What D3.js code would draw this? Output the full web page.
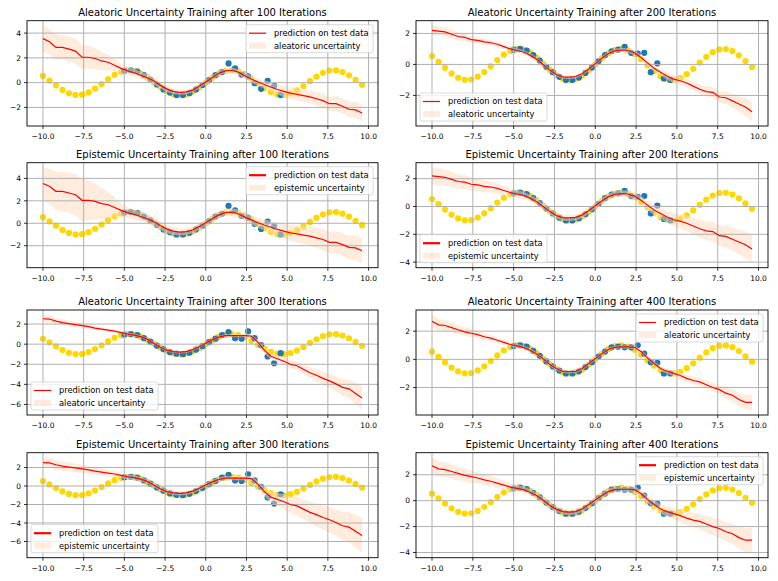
<!DOCTYPE html>
<html><head><meta charset="utf-8">
<script src="https://cdn.jsdelivr.net/npm/d3@7"></script>
<style>body{margin:0;background:#fff} svg{display:block}</style>
</head><body><svg id="c" width="778" height="581"></svg>
<script>
// ---------------- data ----------------
const xTest = [-10,-9.6,-9.2,-8.8,-8.4,-8,-7.6,-7.2,-6.8,-6.4,-6,-5.6,-5.2,-4.8,-4.4,-4,-3.6,-3.2,-2.8,-2.4,-2,-1.6,-1.2,-0.8,-0.4,0,0.4,0.8,1.2,1.6,2,2.4,2.8,3.2,3.6,4,4.4,4.8,5.2,5.6,6,6.4,6.8,7.2,7.6,8,8.4,8.8,9.2,9.6];
const testY = [0.54,0.17,-0.22,-0.59,-0.86,-0.99,-0.97,-0.79,-0.49,-0.12,0.28,0.63,0.88,1.0,0.95,0.76,0.44,0.06,-0.34,-0.68,-0.91,-1.0,-0.93,-0.72,-0.39,0,0.39,0.72,0.93,1.0,0.91,0.68,0.34,-0.06,-0.44,-0.76,-0.95,-1.0,-0.88,-0.63,-0.28,0.12,0.49,0.79,0.97,0.99,0.86,0.59,0.22,-0.17];
const xTrain = [-5,-4.6,-4.2,-3.8,-3.4,-3,-2.6,-2.2,-1.8,-1.4,-1,-0.6,-0.2,0.2,0.6,1,1.4,1.8,2.2,2.6,3,3.4,3.8,4.2,4.6];
const train100 = [0.95,1.0,0.9,0.6,0.25,-0.15,-0.55,-0.8,-1.0,-1.0,-0.85,-0.55,-0.2,0.2,0.6,0.85,1.55,1.15,0.65,0.5,-0.05,-0.5,0.15,-0.25,-1.0];
const train200 = [0.95,1.0,0.9,0.6,0.25,-0.15,-0.5,-0.8,-1.0,-1.0,-0.85,-0.55,-0.2,0.2,0.6,0.85,0.95,1.13,0.75,0.7,0.75,-0.5,0.07,-0.9,-1.0];
const train300 = [0.95,1.0,0.9,0.6,0.25,-0.15,-0.5,-0.8,-0.95,-1.0,-0.85,-0.55,-0.2,0.2,0.55,0.9,1.2,0.6,0.55,1.27,0.6,-0.1,-1.23,-1.9,-0.9];
const train400 = [0.95,1.0,0.9,0.6,0.25,-0.15,-0.5,-0.8,-1.0,-1.0,-0.85,-0.55,-0.2,0.2,0.55,0.85,0.9,0.85,0.85,1.0,0.4,-0.2,-0.25,-1.0,-1.0];

const mean100 = [3.55,3.3,2.85,2.85,2.7,2.55,2.05,2.05,1.95,1.75,1.65,1.4,1.15,0.95,0.8,0.6,0.4,0.15,-0.2,-0.5,-0.7,-0.78,-0.75,-0.6,-0.3,0.05,0.4,0.75,0.95,1.0,0.85,0.55,0.3,0.05,-0.15,-0.35,-0.55,-0.7,-0.85,-0.95,-1.05,-1.15,-1.3,-1.45,-1.7,-1.7,-1.9,-2.15,-2.2,-2.45];
const mean200 = [2.2,2.15,2.1,1.95,1.8,1.75,1.6,1.55,1.45,1.4,1.3,1.15,1.0,0.9,0.8,0.6,0.35,0.0,-0.35,-0.65,-0.8,-0.82,-0.78,-0.6,-0.3,0.05,0.4,0.7,0.88,0.93,0.9,0.75,0.45,0.1,-0.25,-0.5,-0.75,-0.95,-1.05,-1.2,-1.4,-1.6,-1.75,-1.8,-2.1,-2.15,-2.35,-2.55,-2.75,-3.05];
const mean300 = [2.53,2.5,2.3,2.15,2.05,1.95,1.85,1.75,1.6,1.5,1.4,1.3,1.15,1.0,0.9,0.75,0.5,0.1,-0.3,-0.6,-0.75,-0.8,-0.75,-0.55,-0.25,0.1,0.45,0.7,0.85,0.85,0.85,0.85,0.8,0.2,-0.6,-1.2,-1.45,-1.7,-2.0,-2.15,-2.5,-2.85,-3.1,-3.4,-3.65,-3.95,-4.3,-4.45,-4.9,-5.35];
const mean400 = [2.7,2.45,2.4,2.25,2.1,1.95,1.85,1.75,1.6,1.5,1.35,1.2,1.05,0.95,0.85,0.65,0.4,0.05,-0.35,-0.65,-0.85,-0.88,-0.85,-0.65,-0.3,0.05,0.4,0.7,0.85,0.88,0.88,0.85,0.55,0.1,-0.3,-0.65,-0.85,-1.0,-1.15,-1.35,-1.5,-1.6,-1.8,-2.0,-2.15,-2.4,-2.55,-2.85,-3.05,-3.05];

const aleHW100 = [1.06,1.0,1.05,1.0,1.0,1.02,0.95,0.95,0.85,0.75,0.62,0.5,0.4,0.35,0.32,0.3,0.3,0.3,0.28,0.25,0.22,0.2,0.2,0.18,0.18,0.18,0.18,0.2,0.2,0.22,0.22,0.25,0.28,0.3,0.35,0.38,0.4,0.45,0.45,0.48,0.5,0.52,0.55,0.55,0.58,0.6,0.6,0.62,0.65,0.66];
const epiHW100 = [1.42,1.55,1.7,1.75,1.8,1.85,1.9,1.8,1.6,1.4,1.2,0.9,0.6,0.5,0.45,0.4,0.4,0.42,0.4,0.38,0.35,0.32,0.3,0.3,0.3,0.3,0.3,0.32,0.35,0.35,0.38,0.4,0.42,0.45,0.5,0.55,0.6,0.65,0.7,0.75,0.8,0.85,0.9,0.95,0.95,1.0,1.0,1.05,1.1,1.1];
const aleHW200 = [0.34,0.3,0.28,0.27,0.25,0.24,0.22,0.2,0.2,0.18,0.17,0.16,0.15,0.14,0.13,0.13,0.12,0.12,0.12,0.12,0.12,0.12,0.12,0.12,0.12,0.12,0.12,0.13,0.13,0.14,0.15,0.16,0.17,0.18,0.2,0.22,0.24,0.25,0.27,0.28,0.3,0.3,0.32,0.33,0.35,0.4,0.45,0.5,0.58,0.64];
const epiHW200 = [0.61,0.6,0.58,0.55,0.52,0.5,0.48,0.45,0.42,0.4,0.37,0.34,0.3,0.28,0.26,0.25,0.24,0.23,0.22,0.22,0.22,0.22,0.22,0.22,0.22,0.22,0.22,0.22,0.23,0.24,0.25,0.27,0.3,0.33,0.37,0.4,0.44,0.48,0.52,0.56,0.6,0.63,0.66,0.7,0.74,0.78,0.82,0.88,0.95,1.0];
const aleHW300 = [0.4,0.35,0.33,0.3,0.28,0.26,0.24,0.22,0.2,0.19,0.18,0.17,0.16,0.15,0.15,0.14,0.14,0.14,0.14,0.14,0.14,0.14,0.14,0.14,0.14,0.14,0.14,0.14,0.14,0.15,0.15,0.15,0.15,0.25,0.3,0.3,0.32,0.35,0.4,0.45,0.5,0.55,0.6,0.65,0.7,0.75,0.8,0.9,1.05,1.22];
const epiHW300 = [0.55,0.55,0.52,0.5,0.48,0.46,0.44,0.42,0.4,0.38,0.36,0.33,0.3,0.28,0.26,0.25,0.24,0.23,0.22,0.22,0.22,0.22,0.22,0.22,0.22,0.22,0.22,0.22,0.22,0.23,0.24,0.26,0.3,0.4,0.5,0.6,0.7,0.8,0.9,1.0,1.08,1.15,1.22,1.3,1.38,1.45,1.55,1.65,1.78,1.88];
const aleHW400 = [0.46,0.42,0.38,0.35,0.32,0.3,0.28,0.26,0.24,0.22,0.2,0.18,0.16,0.15,0.14,0.13,0.12,0.12,0.12,0.12,0.12,0.12,0.12,0.12,0.12,0.12,0.12,0.12,0.12,0.12,0.12,0.13,0.14,0.15,0.16,0.17,0.18,0.2,0.22,0.24,0.26,0.28,0.3,0.32,0.35,0.38,0.42,0.48,0.52,0.56];
const epiHW400 = [0.63,0.6,0.58,0.55,0.52,0.5,0.48,0.45,0.42,0.4,0.37,0.34,0.3,0.28,0.26,0.25,0.24,0.23,0.22,0.22,0.22,0.22,0.22,0.22,0.22,0.22,0.22,0.22,0.22,0.23,0.24,0.26,0.28,0.3,0.33,0.37,0.4,0.44,0.48,0.52,0.56,0.6,0.63,0.66,0.7,0.74,0.78,0.85,0.92,0.98];

const xTickValues = [-10,-7.5,-5,-2.5,0,2.5,5,7.5,10];
const xTickLabels = ["\u221210.0","\u22127.5","\u22125.0","\u22122.5","0.0","2.5","5.0","7.5","10.0"];
const titles = [
  "Aleatoric Uncertainty Training after 100 Iterations",
  "Aleatoric Uncertainty Training after 200 Iterations",
  "Epistemic Uncertainty Training after 100 Iterations",
  "Epistemic Uncertainty Training after 200 Iterations",
  "Aleatoric Uncertainty Training after 300 Iterations",
  "Aleatoric Uncertainty Training after 400 Iterations",
  "Epistemic Uncertainty Training after 300 Iterations",
  "Epistemic Uncertainty Training after 400 Iterations"
];
const lineLabel = "prediction on test data";
const bandLabels = ["aleatoric uncertainty","epistemic uncertainty"];

// ---------------- layout ----------------
const panels = [
  {t:0, kind:0, mean:mean100, hw:aleHW100, train:train100, ylim:[-3.5,5.0], leg:"ur", col:0, row:0},
  {t:1, kind:0, mean:mean200, hw:aleHW200, train:train200, ylim:[-3.97,2.82], leg:"ll", col:1, row:0},
  {t:2, kind:1, mean:mean100, hw:epiHW100, train:train100, ylim:[-3.96,5.4], leg:"ur", col:0, row:1},
  {t:3, kind:1, mean:mean200, hw:epiHW200, train:train200, ylim:[-4.4,3.15], leg:"ll", col:1, row:1},
  {t:4, kind:0, mean:mean300, hw:aleHW300, train:train300, ylim:[-7.05,3.4], leg:"ll", col:0, row:2},
  {t:5, kind:0, mean:mean400, hw:aleHW400, train:train400, ylim:[-3.95,3.5], leg:"ur", col:1, row:2},
  {t:6, kind:1, mean:mean300, hw:epiHW300, train:train300, ylim:[-7.75,3.6], leg:"ll", col:0, row:3},
  {t:7, kind:1, mean:mean400, hw:epiHW400, train:train400, ylim:[-4.4,3.7], leg:"ur", col:1, row:3}
];
const colX = [[27,378],[416,768]];
const rowY = [[20.7,126],[162.7,267.7],[310,415],[452.7,557.7]];
const FONT = "DejaVu Sans, sans-serif";

const svg = d3.select("#c");
svg.append("rect").attr("width",778).attr("height",581).attr("fill","#fff");

panels.forEach((p,i) => {
  const [x0,x1] = colX[p.col], [y0,y1] = rowY[p.row];
  const xs = d3.scaleLinear().domain([-10.98,10.58]).range([x0,x1]);
  const ys = d3.scaleLinear().domain(p.ylim).range([y1,y0]);
  const g = svg.append("g");
  const cid = "clip"+i;
  g.append("clipPath").attr("id",cid).append("rect").attr("x",x0).attr("y",y0).attr("width",x1-x0).attr("height",y1-y0);
  const plot = g.append("g").attr("clip-path",`url(#${cid})`);

  // test data (gold)
  plot.selectAll(".gold").data(xTest).join("circle")
    .attr("cx",d=>xs(d)).attr("cy",(d,k)=>ys(testY[k])).attr("r",3.1).attr("fill","#ffd700");
  // training data (blue)
  plot.selectAll(".blue").data(xTrain).join("circle")
    .attr("cx",d=>xs(d)).attr("cy",(d,k)=>ys(p.train[k])).attr("r",3.1).attr("fill","#1f77b4");
  // uncertainty band
  const area = d3.area().x((d,k)=>xs(xTest[k])).y0((d,k)=>ys(p.mean[k]-p.hw[k])).y1((d,k)=>ys(p.mean[k]+p.hw[k]));
  plot.append("path").datum(xTest).attr("d",area).attr("fill","#ffdab9").attr("fill-opacity",0.5);
  // grid
  const yTicks = d3.range(Math.ceil(p.ylim[0]/2)*2, p.ylim[1]+1e-9, 2);
  xTickValues.forEach(v => plot.append("line").attr("x1",xs(v)).attr("x2",xs(v)).attr("y1",y0).attr("y2",y1).attr("stroke","#b0b0b0").attr("stroke-width",1));
  yTicks.forEach(v => plot.append("line").attr("x1",x0).attr("x2",x1).attr("y1",ys(v)).attr("y2",ys(v)).attr("stroke","#b0b0b0").attr("stroke-width",1));
  // prediction line
  const line = d3.line().x((d,k)=>xs(xTest[k])).y((d,k)=>ys(p.mean[k]));
  plot.append("path").datum(xTest).attr("d",line).attr("fill","none").attr("stroke","#ff0000").attr("stroke-width",1.2);

  // spines
  g.append("rect").attr("x",x0).attr("y",y0).attr("width",x1-x0).attr("height",y1-y0)
    .attr("fill","none").attr("stroke","#000").attr("stroke-width",0.9);
  // ticks
  xTickValues.forEach((v,k) => {
    g.append("line").attr("x1",xs(v)).attr("x2",xs(v)).attr("y1",y1).attr("y2",y1+3).attr("stroke","#000").attr("stroke-width",0.8);
    g.append("text").attr("x",xs(v)).attr("y",y1+13).attr("text-anchor","middle")
      .attr("font-family",FONT).attr("font-size",7.5).attr("fill","#000").text(xTickLabels[k]);
  });
  yTicks.forEach(v => {
    g.append("line").attr("x1",x0-3).attr("x2",x0).attr("y1",ys(v)).attr("y2",ys(v)).attr("stroke","#000").attr("stroke-width",0.8);
    g.append("text").attr("x",x0-6).attr("y",ys(v)+2.7).attr("text-anchor","end")
      .attr("font-family",FONT).attr("font-size",7.5).attr("fill","#000").text(v<0?"\u2212"+Math.abs(v):String(v));
  });
  // title
  g.append("text").attr("x",(x0+x1)/2).attr("y",y0-5).attr("text-anchor","middle")
    .attr("font-family",FONT).attr("font-size",10).attr("fill","#000").text(titles[p.t]);

  // legend
  const lw = 127, lh = 28;
  const lx = p.leg==="ur" ? x1-5-lw : x0+4;
  const ly = p.leg==="ur" ? y0+4 : y1-5-lh;
  const lg = g.append("g");
  lg.append("rect").attr("x",lx).attr("y",ly).attr("width",lw).attr("height",lh).attr("rx",2)
    .attr("fill","#fff").attr("fill-opacity",0.8).attr("stroke","#d0d0d0").attr("stroke-width",0.8);
  lg.append("line").attr("x1",lx+3).attr("x2",lx+20).attr("y1",ly+8.5).attr("y2",ly+8.5)
    .attr("stroke","#ff0000").attr("stroke-width",p.kind===1?2.2:1.2);
  lg.append("rect").attr("x",lx+3).attr("y",ly+18).attr("width",17).attr("height",6)
    .attr("fill","#ffdab9").attr("fill-opacity",0.5);
  lg.append("text").attr("x",lx+28).attr("y",ly+11.4).attr("font-family",FONT).attr("font-size",8.3).text(lineLabel);
  lg.append("text").attr("x",lx+28).attr("y",ly+24).attr("font-family",FONT).attr("font-size",8.3).text(bandLabels[p.kind]);
});
</script></body></html>
